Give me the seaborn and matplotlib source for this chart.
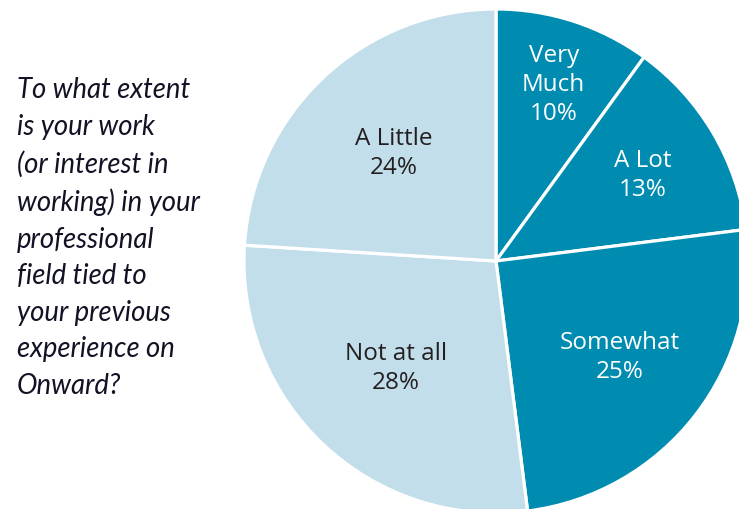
import matplotlib
matplotlib.use("Agg")
import matplotlib.pyplot as plt
import seaborn as sns
import numpy as np

# ---- data ----
categories = ["Very\nMuch", "A Lot", "Somewhat", "Not at all", "A Little"]
values = [10, 13, 25, 28, 24]
question = ("To what extent\nis your work\n(or interest in\nworking) in your\n"
            "professional\nfield tied to\nyour previous\nexperience on\nOnward?")

sns.set_theme(style="white")
plt.rcParams['font.family'] = ['Open Sans', 'DejaVu Sans']

DARK = "#008BB0"
LIGHT = "#C2DEEA"
colors = [DARK, DARK, DARK, LIGHT, LIGHT]
text_colors = ["white", "white", "white", "#231F20", "#231F20"]
label_r = [0.74, 0.675, 0.62, 0.58, 0.59]

W, H = 739, 510
fig = plt.figure(figsize=(W / 100, H / 100), dpi=100)
ax = fig.add_axes([0, 0, 1, 1])

cx, cy, R = 496, H - 262, 252
wedges, _ = ax.pie(values, colors=colors, startangle=90, counterclock=False,
                   center=(cx, cy), radius=R, frame=True,
                   wedgeprops=dict(edgecolor="white", linewidth=2.3))
ax.set_xlim(0, W)
ax.set_ylim(0, H)
ax.set_aspect("equal")
ax.axis("off")

for w, cat, v, rf, tc in zip(wedges, categories, values, label_r, text_colors):
    ang = np.deg2rad((w.theta1 + w.theta2) / 2)
    x = cx + rf * R * np.cos(ang)
    y = cy + rf * R * np.sin(ang)
    ax.text(x, y, f"{cat}\n{v}%", ha="center", va="center", color=tc,
            fontsize=17.5, linespacing=1.28, multialignment="center")

ax.text(17, H - 238, question, ha="left", va="center", color="#121225",
        fontsize=19.8, fontfamily="Lato", fontstyle="italic", linespacing=1.5)

fig.savefig("out.png", dpi=100)
